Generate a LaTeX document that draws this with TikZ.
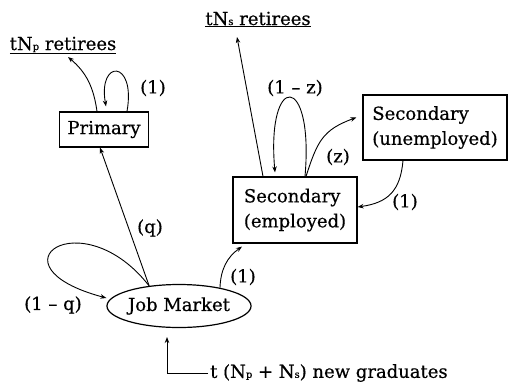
\documentclass[tikz,border=0pt]{standalone}
\usepackage{fontspec}
\setmainfont[FakeBold=0.5]{DejaVu Serif}
\usetikzlibrary{arrows.meta}
\usetikzlibrary{positioning}
\usetikzlibrary{shapes.geometric}
\newcommand{\sml}[1]{{\fontsize{10}{10}\selectfont #1}}
\tikzset{>={Stealth[length=6pt,width=4.5pt]},
	box/.style={
		draw,
		line width=1.2pt,
		align=left,
		inner sep=0pt},
	lbl/.style={inner sep=1pt},
	every edge/.style={
		draw,
		->,
		line width=0.9pt}
}

\begin{document}
\begin{tikzpicture}[x=1pt, y=1pt, font=\fontsize{18}{25}\selectfont]
	\useasboundingbox (0,0) rectangle (510,384);
	\node[box, minimum width=89pt, minimum height=35pt] (prim) at (104,254.5) {Primary};
	\node[box, minimum width=124pt, minimum height=66pt] (emp) at (295,174) {Secondary\\(employed)};
	\node[box, minimum width=144pt, minimum height=65pt] (unemp) at (435,256.5) {Secondary\\(unemployed)};
	\node[draw, ellipse, line width=1.2pt, minimum width=132pt, minimum height=43pt, inner sep=0pt] (job) at (179,78) {Job Market};
	\node[anchor=base, inner sep=0pt] (retp) at (63,334) {\underline{tN\sml{p} retirees}};
	\node[anchor=base, inner sep=0pt] (rets) at (258,359) {\underline{tN\sml{s} retirees}};
	\node[anchor=west, inner sep=0pt] (grad) at (210,11) {t (N\sml{p} + N\sml{s}) new graduates};
	\coordinate (gtip) at (167,47);
	
	\draw ([xshift=-7pt]prim.north) edge[out=98, in=-40] ([shift={(5pt,-7pt)}]retp.base);
	\draw ([xshift=23pt]prim.north) edge[out=80, in=100, out distance=53pt, in distance=48pt] ([shift={(2pt,5pt)}]prim.north);
	\node[lbl] (l1p) at (153,296) {(1)};
	
	\draw (job.146) edge ([xshift=-4pt]prim.south);
	\node[lbl] (lq) at (150,156) {(q)};
	\draw (job.146) edge[out=128, in=165, out distance=110pt, in distance=125pt] ([yshift=8pt]job.west);
	\node[lbl] (l1q) at (53,79) {(1 – q)};
	
	\draw (job.24) edge[out=88, in=-145] ([shift={(-53pt,-3pt)}]emp.south);
	\node[lbl] (l1j) at (243,107) {(1)};
	
	\draw ([xshift=-32pt]emp.north) edge ([shift={(-21pt,-12pt)}]rets.base);
	\draw ([xshift=10pt]emp.north) edge[out=85, in=95, out distance=105pt, in distance=101pt] ([shift={(-20pt,4pt)}]emp.north);
	\node[lbl] (l1z) at (295,296) {(1 – z)};
	
	\draw ([xshift=11pt]emp.north) edge[out=72, in=-160, looseness=1.2] ([shift={(-6pt,10pt)}]unemp.west);
	\node[lbl] (lz) at (338,227) {(z)};
	
	\draw ([xshift=-32pt]unemp.south) edge[out=-95, in=8, looseness=1.2] ([yshift=3pt]emp.east);
	\node[lbl] (l1u) at (405,182) {(1)};
	
	\draw[->, line width=0.9pt] ([xshift=-2pt]grad.west) -| (gtip);
	
\end{tikzpicture}
\end{document}
